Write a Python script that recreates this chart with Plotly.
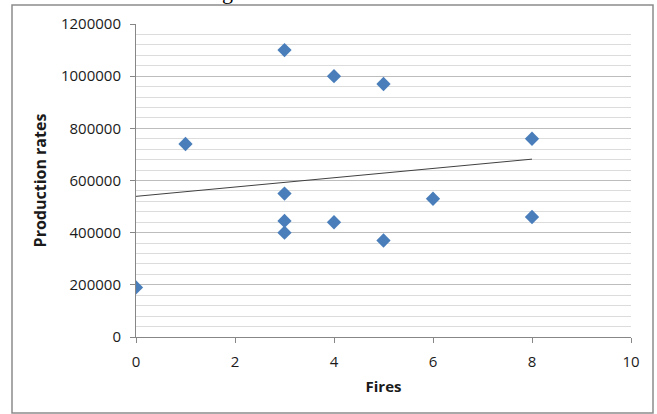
import numpy as np
import plotly.graph_objects as go

fires = [0, 1, 3, 4, 5, 8, 3, 6, 3, 4, 8, 3, 5]
production = [190000, 740000, 1100000, 1000000, 970000, 760000, 550000,
              530000, 445000, 440000, 460000, 400000, 370000]
x_ticks = [0, 2, 4, 6, 8, 10]
y_ticks = [0, 200000, 400000, 600000, 800000, 1000000, 1200000]

slope, intercept = np.polyfit(fires, production, 1)
trend_x = [min(fires), max(fires)]
trend_y = [intercept + slope * v for v in trend_x]

W, H = 657, 414
L, R, T, B = 136, 26, 24, 77
pw, ph = W - L - R, H - T - B

def px(x):
    return (x - L) / pw

def py(y):
    return (H - B - y) / ph

font = "Open Sans"
fig = go.Figure()
fig.add_trace(go.Scatter(x=trend_x, y=trend_y, mode="lines",
                         line=dict(color="#404040", width=1), showlegend=False,
                         hoverinfo="skip"))
fig.add_trace(go.Scatter(x=fires, y=production, mode="markers",
                         marker=dict(symbol="diamond", size=11, color="#4A7EBB"),
                         showlegend=False))

fig.update_layout(
    width=W, height=H,
    margin=dict(l=L, r=R, t=T, b=B, autoexpand=False),
    paper_bgcolor="white", plot_bgcolor="white",
    font=dict(family=font, size=14, color="#1a1a1a"),
    xaxis=dict(range=[0, 10], tickvals=x_ticks, ticks="outside", ticklen=5,
               tickcolor="#878787", showline=True, linecolor="#878787",
               linewidth=1, showgrid=False, zeroline=False,
               tickfont=dict(size=15), ticklabelstandoff=6,
               title=dict(text="<b>Fires</b>", font=dict(size=15), standoff=11),
               automargin=False),
    yaxis=dict(range=[0, 1200000], tickvals=y_ticks, ticks="outside", ticklen=5,
               tickcolor="#878787", showline=True, linecolor="#878787",
               linewidth=1, showgrid=True, gridcolor="#BDBDBD", gridwidth=1,
               zeroline=False, tickformat="d", tickfont=dict(size=15),
               ticklabelstandoff=6,
               minor=dict(dtick=40000, showgrid=True, gridcolor="#DCDCDC",
                          gridwidth=1, ticks=""),
               title=dict(text="<b>Production rates</b>", font=dict(size=16),
                          standoff=10),
               automargin=False),
    shapes=[dict(type="rect", xref="paper", yref="paper",
                 x0=px(12), x1=px(653), y0=py(413), y1=py(5),
                 line=dict(color="#8C8C8C", width=1.5), layer="below")],
    annotations=[dict(text="g", xref="paper", yref="paper", x=px(227),
                      y=py(-9), xanchor="center", yanchor="middle",
                      showarrow=False,
                      font=dict(family="Liberation Serif", size=22, color="black"))],
)

fig.write_html("out.html")
